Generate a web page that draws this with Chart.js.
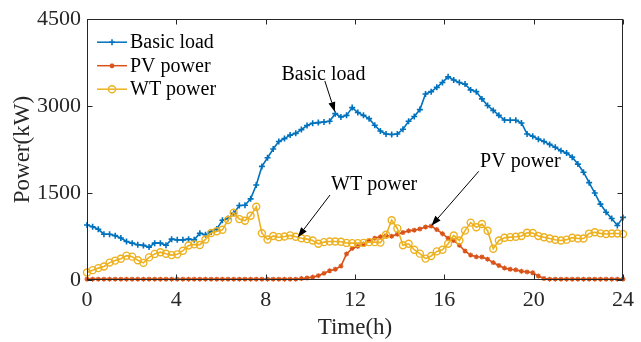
<!DOCTYPE html>
<html>
<head>
<meta charset="utf-8">
<script src="https://cdn.jsdelivr.net/npm/chart.js@4.4.1/dist/chart.umd.min.js"></script>
<style>
    html, body { margin: 0; padding: 0; background: #fff; }
</style>
</head>
<body>
<canvas id="powerChart" width="641" height="342"></canvas>
<script>
// 96 samples over one day (kW)
const loadKW = [
    950, 920, 875, 790, 790, 765, 725, 665, 636, 608,
    597, 568, 636, 636, 600, 705, 693, 693, 705, 693,
    807, 780, 830, 881, 1030, 1060, 1150, 1285, 1290, 1400,
    1640, 1960, 2110, 2260, 2390, 2440, 2500, 2530, 2595, 2665,
    2705, 2716, 2727, 2740, 2870, 2812, 2841, 2975, 2890, 2841,
    2784, 2671, 2570, 2520, 2511, 2520, 2600, 2740, 2820, 2940,
    3210, 3250, 3324, 3409, 3505, 3450, 3409, 3380, 3280, 3250,
    3125, 3011, 2926, 2841, 2760, 2756, 2756, 2710, 2520, 2480,
    2430, 2390, 2340, 2290, 2230, 2190, 2120, 2000, 1860, 1680,
    1500, 1310, 1170, 1060, 940, 1080
];
const pvKW = [
    15, 15, 15, 15, 15, 15, 15, 15, 15, 15,
    15, 15, 15, 15, 15, 15, 15, 15, 15, 15,
    15, 15, 15, 15, 15, 15, 15, 15, 15, 15,
    15, 15, 15, 15, 15, 15, 15, 15, 25, 35,
    50, 75, 115, 160, 185, 240, 450, 545, 580, 620,
    680, 720, 745, 765, 755, 790, 820, 848, 860, 881,
    915, 930, 870, 800, 720, 680, 600, 500, 430, 400,
    398, 360, 300, 250, 205, 185, 175, 150, 140, 125,
    68, 25, 15, 15, 15, 15, 15, 15, 15, 15,
    15, 15, 15, 15, 15, 15
];
const wtKW = [
    130, 170, 205, 233, 300, 335, 366, 420, 403, 341,
    295, 390, 450, 480, 452, 430, 443, 505, 594, 615,
    605, 700, 810, 841, 866, 1035, 1162, 1051, 1023, 1108,
    1264, 807, 700, 760, 739, 750, 770, 745, 720, 705,
    682, 625, 653, 665, 665, 660, 640, 636, 636, 640,
    653, 653, 645, 780, 1030, 890, 600, 625, 523, 455,
    369, 415, 494, 523, 625, 767, 682, 852, 990, 909,
    966, 850, 540, 682, 730, 739, 745, 760, 815, 810,
    760, 738, 716, 695, 682, 696, 730, 716, 716, 801,
    824, 805, 795, 803, 803, 795
];
const seriesNames = ['Basic load', 'PV power', 'WT power'];
const xTicks = [0, 4, 8, 12, 16, 20, 24];
const yTicks = [0, 1500, 3000, 4500];

// sample times, spread evenly from 0 h to 24 h
const hours = loadKW.map((_, i) => i * 24 / (loadKW.length - 1));

// text callouts with arrows, in data units
const callouts = [
    { text: 'Basic load', at: [8.71, 3562], from: [10.65, 3434], to: [11.1, 2898] },
    { text: 'WT power', at: [10.93, 1662], from: [10.88, 1466], to: [9.44, 738] },
    { text: 'PV power', at: [17.6, 2062], from: [17.54, 1875], to: [15.42, 937] }
];

const serif = '"Liberation Serif", "Times New Roman", serif';
const axisColor = '#262626';
const colors = ['#0072BD', '#D95319', '#EDB120'];
const markers = ['cross', 'star', 'circle'];

function drawMarker(ctx, style, x, y, r, color, lw) {
    ctx.save();
    ctx.strokeStyle = color;
    ctx.lineWidth = lw;
    ctx.beginPath();
    if (style === 'circle') {
        ctx.arc(x, y, r, 0, Math.PI * 2);
    } else {
        ctx.moveTo(x - r, y); ctx.lineTo(x + r, y);
        ctx.moveTo(x, y - r); ctx.lineTo(x, y + r);
        if (style === 'star') {
            const d = r * Math.SQRT1_2;
            ctx.moveTo(x - d, y - d); ctx.lineTo(x + d, y + d);
            ctx.moveTo(x - d, y + d); ctx.lineTo(x + d, y - d);
        }
    }
    ctx.stroke();
    ctx.restore();
}

const framePlugin = {
    id: 'frame',
    afterDatasetsDraw(chart) {
        const { ctx, chartArea: a, scales: { x, y } } = chart;
        const L = Math.round(a.left) + 0.5, R = Math.round(a.right) - 0.5;
        const T = Math.round(a.top) + 0.5, B = Math.round(a.bottom) - 0.5;
        ctx.save();
        ctx.strokeStyle = axisColor;
        ctx.lineWidth = 1;
        ctx.strokeRect(L, T, R - L, B - T);
        ctx.beginPath();
        xTicks.forEach(v => {
            const px = Math.round(x.getPixelForValue(v)) + 0.5;
            ctx.moveTo(px, B); ctx.lineTo(px, B - 5);
            ctx.moveTo(px, T); ctx.lineTo(px, T + 5);
        });
        yTicks.forEach(v => {
            const py = Math.round(y.getPixelForValue(v)) + 0.5;
            ctx.moveTo(L, py); ctx.lineTo(L + 5, py);
            ctx.moveTo(R, py); ctx.lineTo(R - 5, py);
        });
        ctx.stroke();
        ctx.restore();
    }
};

const legendPlugin = {
    id: 'innerLegend',
    afterDraw(chart) {
        const { ctx, chartArea: a } = chart;
        ctx.save();
        ctx.font = '20px ' + serif;
        ctx.textBaseline = 'middle';
        ctx.fillStyle = '#000';
        chart.data.datasets.forEach((ds, i) => {
            const yy = a.top + 23 + i * 23.5;
            const x1 = a.left + 10, x2 = a.left + 40;
            ctx.strokeStyle = colors[i];
            ctx.lineWidth = 1.5;
            ctx.beginPath();
            ctx.moveTo(x1, yy); ctx.lineTo(x2, yy);
            ctx.stroke();
            drawMarker(ctx, markers[i], (x1 + x2) / 2, yy, ds.pointRadius, colors[i], ds.pointBorderWidth);
            ctx.fillText(ds.label, x2 + 3, yy + 1);
        });
        ctx.restore();
    }
};

const calloutPlugin = {
    id: 'callouts',
    afterDraw(chart) {
        const { ctx, scales: { x, y } } = chart;
        ctx.save();
        ctx.font = '20px ' + serif;
        ctx.textBaseline = 'middle';
        ctx.fillStyle = '#000';
        ctx.strokeStyle = '#000';
        ctx.lineWidth = 1;
        callouts.forEach(c => {
            ctx.fillText(c.text, x.getPixelForValue(c.at[0]), y.getPixelForValue(c.at[1]) + 1);
            const x0 = x.getPixelForValue(c.from[0]), y0 = y.getPixelForValue(c.from[1]);
            const x1 = x.getPixelForValue(c.to[0]), y1 = y.getPixelForValue(c.to[1]);
            const ang = Math.atan2(y1 - y0, x1 - x0);
            const head = 10, half = 3.5;
            const bx = x1 - head * Math.cos(ang), by = y1 - head * Math.sin(ang);
            ctx.beginPath();
            ctx.moveTo(x0, y0); ctx.lineTo(bx, by);
            ctx.stroke();
            ctx.beginPath();
            ctx.moveTo(x1, y1);
            ctx.lineTo(bx + half * Math.sin(ang), by - half * Math.cos(ang));
            ctx.lineTo(bx - half * Math.sin(ang), by + half * Math.cos(ang));
            ctx.closePath();
            ctx.fill();
        });
        ctx.restore();
    }
};

const toPoints = vals => vals.map((v, i) => ({ x: hours[i], y: v }));

new Chart(document.getElementById('powerChart'), {
    type: 'line',
    data: {
        datasets: [
            {
                label: seriesNames[0],
                data: toPoints(loadKW),
                borderColor: colors[0],
                backgroundColor: colors[0],
                borderWidth: 1.6,
                pointStyle: 'cross',
                pointRadius: 3,
                pointBorderWidth: 1.6,
                tension: 0,
                clip: false,
                order: 2
            },
            {
                label: seriesNames[1],
                data: toPoints(pvKW),
                borderColor: colors[1],
                backgroundColor: colors[1],
                borderWidth: 1.6,
                pointStyle: 'star',
                pointRadius: 2.5,
                pointBorderWidth: 1.2,
                tension: 0,
                clip: false,
                order: 1
            },
            {
                label: seriesNames[2],
                data: toPoints(wtKW),
                borderColor: colors[2],
                backgroundColor: 'rgba(0,0,0,0)',
                pointBackgroundColor: 'rgba(0,0,0,0)',
                borderWidth: 1.6,
                pointStyle: 'circle',
                pointRadius: 3.5,
                pointBorderWidth: 1.4,
                tension: 0,
                clip: false,
                order: 0
            }
        ]
    },
    options: {
        responsive: false,
        animation: false,
        devicePixelRatio: 1,
        layout: { padding: { top: 16, right: 14, left: 0, bottom: 0 } },
        plugins: {
            legend: { display: false },
            tooltip: { enabled: false }
        },
        scales: {
            x: {
                type: 'linear',
                min: 0,
                max: 24,
                afterFit: s => { s.height = 62; },
                afterBuildTicks: s => { s.ticks = xTicks.map(v => ({ value: v })); },
                grid: { display: false, drawTicks: false },
                border: { display: false },
                ticks: {
                    padding: 7,
                    color: axisColor,
                    maxRotation: 0,
                    font: { family: serif, size: 22 },
                    callback: v => String(v)
                },
                title: {
                    display: true,
                    text: 'Time(h)',
                    color: axisColor,
                    padding: { top: 0, bottom: 0 },
                    font: { family: serif, size: 23 }
                }
            },
            y: {
                type: 'linear',
                min: 0,
                max: 4500,
                afterFit: s => { s.width = 87; },
                afterBuildTicks: s => { s.ticks = yTicks.map(v => ({ value: v })); },
                grid: { display: false, drawTicks: false },
                border: { display: false },
                ticks: {
                    padding: 6,
                    color: axisColor,
                    font: { family: serif, size: 22 },
                    callback: v => String(v)
                },
                title: {
                    display: true,
                    text: 'Power(kW)',
                    color: axisColor,
                    padding: { top: 9, bottom: 0 },
                    font: { family: serif, size: 23 }
                }
            }
        }
    },
    plugins: [framePlugin, legendPlugin, calloutPlugin]
});
</script>
</body>
</html>
